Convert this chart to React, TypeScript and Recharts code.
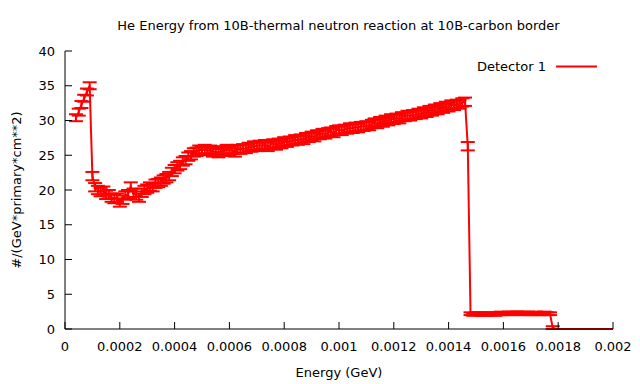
import { LineChart, Line, XAxis, YAxis, ErrorBar } from "recharts";

// histogram bins, 1e-5 GeV wide, first filled bin at 4e-5 GeV
const BIN_WIDTH = 0.00001;
const FIRST_BIN = 4;

// 4e-5 .. 9e-5 GeV
const lowPeak = [30.4, 31.2, 32.3, 33.2, 34.1, 35.0];
const lowPeakErr = 0.5;

// 1e-4 .. 1.47e-3 GeV
const mainBand = [
  22.0, 20.4, 20.0, 19.7, 19.9, 19.3, 19.4, 18.9, 18.7, 18.9,
  18.2, 18.6, 19.2, 19.4, 20.5, 19.6, 19.2, 18.9, 19.6, 20.0,
  20.2, 20.5, 20.4, 20.9, 21.0, 21.2, 21.5, 21.7, 22.0, 22.6,
  23.0, 23.4, 23.6, 24.1, 24.3, 24.8, 25.0, 25.4, 25.5, 25.8,
  25.7,
  25.9, 25.6, 25.8, 25.4, 25.6, 25.3, 25.7, 25.5, 25.9, 25.6,
  25.8, 25.4, 25.9, 25.8, 26.0, 25.9, 26.2, 26.1, 26.4, 26.2,
  26.5, 26.3, 26.6, 26.2, 26.5, 26.7, 26.4, 26.8, 26.6, 27.0,
  26.8, 27.1, 27.0, 27.3, 27.1, 27.4, 27.2, 27.6, 27.5, 27.8,
  27.6, 28.0, 27.9, 28.2, 28.0, 28.3, 28.4, 28.2, 28.6, 28.7,
  28.5, 28.8, 28.7, 29.0, 28.8, 29.1, 28.9, 29.2, 29.1, 29.3,
  29.2, 29.5, 29.7, 29.5, 29.9, 29.7, 30.1, 29.9, 30.3, 30.1,
  30.4, 30.2, 30.6, 30.5, 30.8, 30.6, 30.9, 30.8, 31.1, 30.9,
  31.3, 31.1, 31.5, 31.3, 31.7, 31.5, 31.9, 31.7, 32.1, 31.9,
  32.3, 32.1, 32.4, 32.3, 32.6, 32.7, 26.3,
];
const mainErr = 0.6;

// 1.48e-3 .. 1.77e-3 GeV
const tailBand = [
  2.2, 2.1, 2.2, 2.2, 2.1, 2.2, 2.1, 2.2, 2.2, 2.1,
  2.2, 2.3, 2.2, 2.2, 2.3, 2.2, 2.3, 2.3, 2.2, 2.3,
  2.2, 2.3, 2.2, 2.2, 2.3, 2.2, 2.2, 2.3, 2.2, 2.2,
];
const tailErr = 0.2;

// 1.78e-3 GeV
const cutoffBin = [0.2];
const cutoffErr = 0.2;

// 1.79e-3 .. 2e-3 GeV
const emptyBins = [
  0, 0, 0, 0, 0, 0, 0, 0, 0, 0, 0,
  0, 0, 0, 0, 0, 0, 0, 0, 0, 0, 0,
];

const xTicks = [0, 0.0002, 0.0004, 0.0006, 0.0008, 0.001, 0.0012, 0.0014, 0.0016, 0.0018, 0.002];
const yTicks = [0, 5, 10, 15, 20, 25, 30, 35, 40];

const segments: [number[], number][] = [
  [lowPeak, lowPeakErr],
  [mainBand, mainErr],
  [tailBand, tailErr],
  [cutoffBin, cutoffErr],
  [emptyBins, 0],
];

const data: { e: number; v: number; err: number }[] = [];
let bin = FIRST_BIN;
for (const [vals, err] of segments) {
  for (const v of vals) {
    data.push({ e: Number((bin * BIN_WIDTH).toFixed(5)), v, err });
    bin++;
  }
}

const FONT = "DejaVu Sans";
const RED = "#ff0000";
const tickStyle = { fontSize: 13, fontFamily: FONT, fill: "#000" };
const blank = () => "";

export default function App() {
  return (
    <div style={{ position: "absolute", left: 0, top: 0, width: 640, height: 384, background: "#fff" }}>
      <LineChart
        width={640}
        height={384}
        data={data}
        margin={{ top: 51, right: 27, bottom: 25, left: 0 }}
      >
        <XAxis
          type="number"
          dataKey="e"
          domain={[0, 0.002]}
          ticks={xTicks}
          interval={0}
          tickFormatter={(t: number) => String(t)}
          height={30}
          tickSize={-7}
          tickMargin={20}
          tick={tickStyle}
          axisLine={{ stroke: "#000" }}
          tickLine={{ stroke: "#000" }}
        />
        <XAxis
          xAxisId="top"
          orientation="top"
          type="number"
          dataKey="e"
          domain={[0, 0.002]}
          ticks={xTicks}
          interval={0}
          tickFormatter={blank}
          height={0}
          tickSize={-7}
          axisLine={{ stroke: "#000" }}
          tickLine={{ stroke: "#000" }}
        />
        <YAxis
          type="number"
          domain={[0, 40]}
          ticks={yTicks}
          interval={0}
          width={65}
          tickSize={-7}
          tickMargin={17}
          tick={tickStyle}
          axisLine={{ stroke: "#000" }}
          tickLine={{ stroke: "#000" }}
        />
        <YAxis
          yAxisId="right"
          orientation="right"
          type="number"
          domain={[0, 40]}
          ticks={yTicks}
          interval={0}
          width={0}
          tickSize={-7}
          tickFormatter={blank}
          axisLine={{ stroke: "#000" }}
          tickLine={{ stroke: "#000" }}
        />
        <Line
          type="linear"
          dataKey="v"
          stroke={RED}
          strokeWidth={2}
          dot={false}
          isAnimationActive={false}
        >
          <ErrorBar dataKey="err" direction="y" width={7} stroke={RED} strokeWidth={2} isAnimationActive={false} />
        </Line>
      </LineChart>
      <svg
        width={640}
        height={384}
        style={{ position: "absolute", left: 0, top: 0, pointerEvents: "none" }}
        fontFamily={FONT}
        fontSize={13}
      >
        <text x={338.5} y={30} textAnchor="middle" fill="#000">
          He Energy from 10B-thermal neutron reaction at 10B-carbon border
        </text>
        <text x={339} y={377} textAnchor="middle" fill="#000">
          Energy (GeV)
        </text>
        <text transform="translate(21,190) rotate(-90)" textAnchor="middle" fill="#000">
          #/(GeV*primary*cm**2)
        </text>
        <text x={546} y={71} textAnchor="end" fill="#000">
          Detector 1
        </text>
        <line x1={556} y1={66.5} x2={597} y2={66.5} stroke={RED} strokeWidth={2} />
      </svg>
    </div>
  );
}
